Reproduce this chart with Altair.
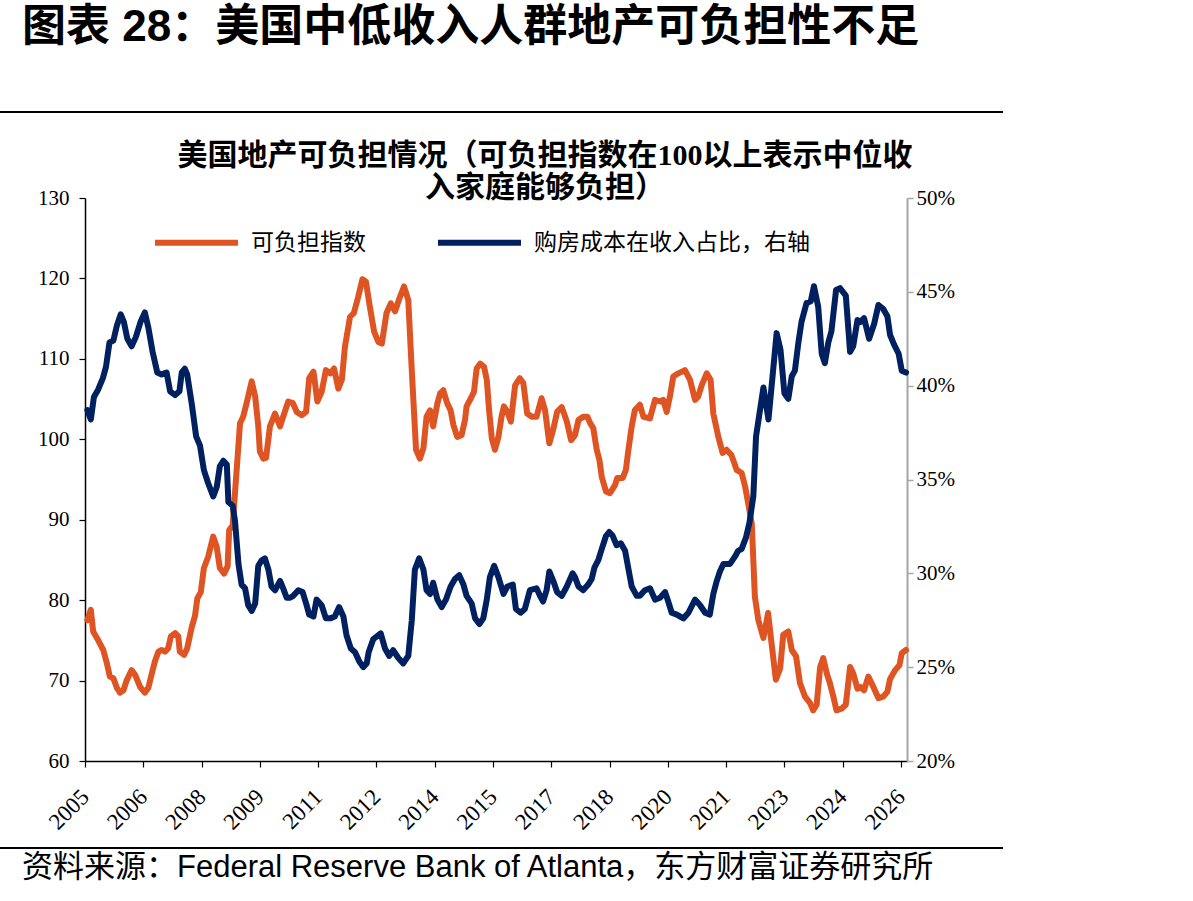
import altair as alt
import pandas as pd

# ---- series: housing affordability index (left axis) ----
afford_year = [
    2005.06, 2005.15, 2005.21, 2005.34, 2005.47, 2005.56, 2005.64, 2005.73, 2005.82, 2005.90,
    2005.99, 2006.07, 2006.20, 2006.29, 2006.42, 2006.54, 2006.63, 2006.72, 2006.80, 2006.89,
    2006.97, 2007.06, 2007.14, 2007.21, 2007.32, 2007.40, 2007.44, 2007.55, 2007.63, 2007.75,
    2007.83, 2007.89, 2007.98, 2008.06, 2008.17, 2008.30, 2008.39, 2008.47, 2008.58, 2008.67,
    2008.71, 2008.80, 2008.99, 2009.07, 2009.16, 2009.29, 2009.38, 2009.46, 2009.50, 2009.59,
    2009.66, 2009.76, 2009.89, 2010.02, 2010.10, 2010.23, 2010.35, 2010.45, 2010.58, 2010.69,
    2010.77, 2010.88, 2010.98, 2011.09, 2011.20, 2011.31, 2011.41, 2011.52, 2011.61, 2011.69,
    2011.82, 2011.92, 2012.03, 2012.14, 2012.23, 2012.33, 2012.44, 2012.55, 2012.64, 2012.76,
    2012.87, 2012.98, 2013.09, 2013.21, 2013.32, 2013.41, 2013.52, 2013.62, 2013.71, 2013.79,
    2013.88, 2013.96, 2014.07, 2014.14, 2014.22, 2014.32, 2014.41, 2014.48, 2014.58, 2014.69,
    2014.78, 2014.82, 2014.93, 2015.01, 2015.08, 2015.17, 2015.27, 2015.34, 2015.40, 2015.47,
    2015.55, 2015.64, 2015.72, 2015.78, 2015.87, 2015.96, 2016.07, 2016.19, 2016.28, 2016.38,
    2016.50, 2016.62, 2016.75, 2016.84, 2016.95, 2017.05, 2017.15, 2017.27, 2017.40, 2017.51,
    2017.61, 2017.70, 2017.82, 2017.93, 2018.00, 2018.08, 2018.17, 2018.24, 2018.30, 2018.41,
    2018.51, 2018.64, 2018.70, 2018.84, 2018.92, 2018.98, 2019.07, 2019.15, 2019.28, 2019.37,
    2019.54, 2019.67, 2019.80, 2019.88, 2019.97, 2020.06, 2020.14, 2020.27, 2020.44, 2020.57,
    2020.70, 2020.78, 2020.87, 2021.00, 2021.10, 2021.17, 2021.30, 2021.41, 2021.51, 2021.64,
    2021.77, 2021.90, 2021.99, 2022.07, 2022.16, 2022.24, 2022.33, 2022.46, 2022.58, 2022.67,
    2022.78, 2022.89, 2022.97, 2023.10, 2023.19, 2023.30, 2023.40, 2023.53, 2023.66, 2023.74,
    2023.83, 2023.92, 2024.00, 2024.09, 2024.17, 2024.26, 2024.34, 2024.47, 2024.58, 2024.69,
    2024.77, 2024.88, 2024.96, 2025.05, 2025.16, 2025.29, 2025.42, 2025.54, 2025.65, 2025.72,
    2025.85, 2025.96, 2026.02, 2026.13,
]
afford_value = [
    77.5, 78.8, 76.1, 75.0, 73.8, 72.2, 70.5, 70.3, 69.1, 68.5,
    68.8, 70.0, 71.3, 70.7, 69.2, 68.5, 69.1, 70.9, 72.4, 73.6,
    73.8, 73.6, 74.0, 75.5, 75.9, 75.5, 73.6, 73.2, 74.0, 76.7,
    78.0, 80.2, 81.0, 84.0, 85.4, 87.9, 86.6, 84.0, 83.3, 84.2,
    88.7, 89.3, 102.0, 102.8, 104.5, 107.2, 105.3, 101.6, 98.5, 97.6,
    97.7, 101.6, 103.2, 101.6, 102.8, 104.7, 104.5, 103.4, 103.0, 103.4,
    107.6, 108.4, 104.7, 105.9, 108.6, 108.2, 108.8, 106.3, 107.4, 111.5,
    115.2, 115.7, 117.7, 119.9, 119.6, 116.5, 113.4, 112.1, 111.9, 115.7,
    116.9, 115.9, 117.5, 119.0, 117.3, 108.6, 98.7, 97.6, 98.9, 102.8,
    103.6, 101.6, 104.5, 105.7, 106.1, 104.5, 103.6, 101.8, 100.3, 100.5,
    102.4, 104.1, 105.1, 105.9, 108.8, 109.4, 109.0, 107.4, 103.6, 100.1,
    98.7, 100.3, 102.8, 104.1, 103.4, 102.2, 106.7, 107.6, 107.0, 103.2,
    102.8, 102.8, 105.1, 103.6, 99.5, 101.2, 103.4, 104.0, 102.2, 99.9,
    100.5, 102.4, 102.8, 102.8, 102.0, 101.4, 98.7, 97.4, 95.3, 93.5,
    93.3, 94.3, 95.2, 95.2, 96.2, 98.5, 101.6, 103.6, 104.3, 102.8,
    102.6, 104.9, 104.7, 104.9, 103.4, 105.5, 107.8, 108.2, 108.6, 107.4,
    104.9, 105.3, 106.7, 108.2, 107.4, 103.2, 100.3, 98.3, 98.7, 98.0,
    96.2, 95.8, 94.1, 92.0, 89.5, 80.4, 77.5, 75.3, 78.4, 74.6,
    70.1, 71.5, 75.7, 76.1, 73.8, 73.0, 69.7, 68.0, 67.2, 66.3,
    67.0, 71.7, 72.8, 70.9, 69.7, 68.0, 66.3, 66.5, 67.0, 71.7,
    70.9, 69.0, 69.2, 68.8, 70.5, 69.2, 67.8, 68.0, 68.6, 70.2,
    71.3, 71.9, 73.4, 73.8,
]

# ---- series: housing cost as share of income, % (right axis) ----
share_year = [
    2005.06, 2005.15, 2005.23, 2005.34, 2005.46, 2005.54, 2005.63, 2005.73, 2005.82, 2005.92,
    2006.00, 2006.09, 2006.20, 2006.31, 2006.43, 2006.54, 2006.63, 2006.74, 2006.86, 2006.97,
    2007.10, 2007.19, 2007.32, 2007.43, 2007.49, 2007.57, 2007.63, 2007.75, 2007.86, 2007.96,
    2008.06, 2008.17, 2008.30, 2008.39, 2008.47, 2008.56, 2008.65, 2008.69, 2008.80, 2008.86,
    2008.95, 2009.03, 2009.12, 2009.20, 2009.29, 2009.38, 2009.46, 2009.55, 2009.63, 2009.72,
    2009.80, 2009.89, 2010.02, 2010.10, 2010.19, 2010.28, 2010.36, 2010.49, 2010.60, 2010.69,
    2010.77, 2010.88, 2010.96, 2011.09, 2011.20, 2011.31, 2011.43, 2011.54, 2011.65, 2011.73,
    2011.84, 2011.95, 2012.06, 2012.16, 2012.25, 2012.30, 2012.42, 2012.61, 2012.72, 2012.83,
    2012.93, 2013.06, 2013.19, 2013.32, 2013.41, 2013.49, 2013.60, 2013.71, 2013.79, 2013.88,
    2013.96, 2014.07, 2014.18, 2014.29, 2014.41, 2014.52, 2014.63, 2014.74, 2014.82, 2014.95,
    2015.04, 2015.15, 2015.25, 2015.34, 2015.42, 2015.53, 2015.64, 2015.77, 2015.87, 2016.01,
    2016.09, 2016.21, 2016.32, 2016.45, 2016.62, 2016.71, 2016.79, 2016.88, 2016.95, 2017.05,
    2017.15, 2017.27, 2017.40, 2017.55, 2017.61, 2017.70, 2017.82, 2017.95, 2018.04, 2018.11,
    2018.21, 2018.30, 2018.41, 2018.49, 2018.58, 2018.68, 2018.79, 2018.90, 2018.98, 2019.07,
    2019.20, 2019.28, 2019.41, 2019.54, 2019.67, 2019.80, 2019.93, 2020.01, 2020.10, 2020.23,
    2020.40, 2020.53, 2020.70, 2020.83, 2020.96, 2021.08, 2021.17, 2021.26, 2021.34, 2021.43,
    2021.60, 2021.73, 2021.81, 2021.90, 2022.01, 2022.10, 2022.20, 2022.27, 2022.35, 2022.46,
    2022.59, 2022.80, 2022.90, 2023.00, 2023.10, 2023.19, 2023.27, 2023.36, 2023.44, 2023.57,
    2023.68, 2023.76, 2023.87, 2023.96, 2024.04, 2024.13, 2024.21, 2024.33, 2024.43, 2024.58,
    2024.69, 2024.77, 2024.88, 2024.96, 2025.05, 2025.18, 2025.31, 2025.42, 2025.54, 2025.65,
    2025.72, 2025.82, 2025.94, 2026.02, 2026.13,
]
share_value = [
    38.7, 38.2, 39.4, 39.8, 40.4, 41.0, 42.3, 42.4, 43.2, 43.8,
    43.4, 42.5, 42.1, 42.6, 43.4, 43.9, 43.1, 41.8, 40.7, 40.6,
    40.7, 39.7, 39.5, 39.7, 40.7, 40.9, 40.6, 39.0, 37.3, 36.8,
    35.5, 34.8, 34.1, 34.6, 35.7, 36.0, 35.8, 33.8, 33.6, 32.8,
    30.5, 29.4, 29.2, 28.3, 28.0, 28.4, 30.4, 30.7, 30.8, 30.2,
    29.3, 29.1, 29.6, 29.2, 28.7, 28.7, 28.8, 29.1, 29.0, 28.4,
    27.8, 27.7, 28.6, 28.3, 27.6, 27.6, 27.7, 28.2, 27.7, 26.7,
    26.0, 25.8, 25.3, 25.0, 25.2, 25.8, 26.5, 26.8, 26.0, 25.6,
    25.9, 25.5, 25.2, 25.6, 27.5, 30.2, 30.8, 30.2, 29.1, 28.9,
    29.5, 28.6, 28.2, 28.6, 29.3, 29.7, 29.9, 29.4, 28.8, 28.4,
    27.6, 27.3, 27.6, 28.6, 29.8, 30.4, 29.8, 28.9, 29.3, 29.4,
    28.1, 27.9, 28.1, 29.1, 29.2, 28.8, 28.5, 29.1, 30.1, 29.6,
    29.0, 28.8, 29.3, 30.0, 29.8, 29.3, 29.1, 29.4, 29.7, 30.3,
    30.7, 31.3, 32.0, 32.2, 32.0, 31.5, 31.6, 31.2, 30.3, 29.3,
    28.8, 28.8, 29.1, 29.2, 28.6, 28.7, 29.0, 28.5, 27.9, 27.8,
    27.6, 27.9, 28.6, 28.3, 27.9, 27.8, 28.9, 29.6, 30.1, 30.5,
    30.5, 30.9, 31.2, 31.3, 31.9, 32.7, 34.1, 37.3, 38.4, 39.9,
    38.2, 42.8, 41.9, 39.6, 39.3, 40.5, 40.8, 42.3, 43.4, 44.4,
    44.5, 45.3, 44.2, 41.7, 41.2, 42.3, 42.9, 45.1, 45.2, 44.8,
    41.8, 42.1, 43.5, 43.4, 43.6, 42.5, 43.3, 44.3, 44.1, 43.7,
    42.7, 42.2, 41.7, 40.8, 40.7,
]

series_names = ["可负担指数", "购房成本在收入占比，右轴"]
series_colors = ["#DE5423", "#002060"]

x_ticks = [2005, 2006.5, 2008, 2009.5, 2011, 2012.5, 2014, 2015.5, 2017,
           2018.5, 2020, 2021.5, 2023, 2024.5, 2026]
left_ticks = [60, 70, 80, 90, 100, 110, 120, 130]
right_ticks = [20, 25, 30, 35, 40, 45, 50]

header_text = ["图表 28：美国中低收入人群地产可负担性不足"]
subtitle_lines = ["美国地产可负担情况（可负担指数在100以上表示中位收", "入家庭能够负担）"]
source_text = ["资料来源：Federal Reserve Bank of Atlanta，东方财富证券研究所"]

df_a = pd.DataFrame({"year": afford_year, "value": afford_value, "series": series_names[0]})
df_b = pd.DataFrame({"year": share_year, "value": share_value, "series": series_names[1]})

SERIF = "Liberation Serif"
CJK = "Noto Sans CJK SC"

x_enc = alt.X(
    "year:Q",
    scale=alt.Scale(domain=[2005, 2026.155], nice=False, zero=False),
    axis=alt.Axis(
        values=x_ticks, labelExpr="floor(datum.value)", title=None, grid=False,
        domainColor="black", domainWidth=1.5, tickColor="black", tickWidth=1.2, tickSize=6,
        labelAngle=-45, labelAlign="right", labelBaseline="middle", labelPadding=26,
        labelFont=SERIF, labelFontSize=23, labelColor="black", labelOverlap=False,
    ),
)

color_enc = alt.Color(
    "series:N",
    scale=alt.Scale(domain=series_names, range=series_colors),
    legend=alt.Legend(
        title=None, orient="none", legendX=67, legendY=0, direction="horizontal",
        symbolType="stroke", symbolSize=6889, symbolStrokeWidth=6,
        labelFont=CJK, labelFontSize=23, labelColor="black", labelOffset=10,
        labelLimit=500, columnPadding=60,
    ),
)

afford_line = alt.Chart(df_a).mark_line(strokeWidth=6, strokeJoin="round", strokeCap="round").encode(
    x=x_enc,
    y=alt.Y(
        "value:Q",
        scale=alt.Scale(domain=[60, 130], nice=False, zero=False),
        axis=alt.Axis(
            orient="left", values=left_ticks, title=None, grid=False,
            domainColor="black", domainWidth=1.5, tickColor="black", tickWidth=1.2, tickSize=6,
            labelFont=SERIF, labelFontSize=21, labelColor="black", labelPadding=10,
        ),
    ),
    color=color_enc,
)

share_line = alt.Chart(df_b).mark_line(strokeWidth=6, strokeJoin="round", strokeCap="round").encode(
    x=x_enc,
    y=alt.Y(
        "value:Q",
        scale=alt.Scale(domain=[20, 50], nice=False, zero=False),
        axis=alt.Axis(
            orient="right", values=right_ticks, title=None, grid=False,
            labelExpr="datum.value + '%'",
            domainColor="#A6A6A6", domainWidth=2, tickColor="#A6A6A6", tickWidth=1.5, tickSize=6,
            labelFont=SERIF, labelFontSize=21, labelColor="black", labelPadding=3,
        ),
    ),
    color=color_enc,
)

# page header, subtitle, source note and separator rules
header = alt.Chart(pd.DataFrame({"t": header_text})).mark_text(
    align="left", baseline="middle", font="Liberation Sans, " + CJK, fontSize=44,
    fontWeight="bold", color="black",
).encode(text="t:N", x=alt.value(-63), y=alt.value(-170))

sub1 = alt.Chart(pd.DataFrame({"t": subtitle_lines[:1]})).mark_text(
    align="center", baseline="middle", font=SERIF + ", " + CJK, fontSize=30,
    fontWeight="bold", color="black",
).encode(text="t:N", x=alt.value(460), y=alt.value(-42))

sub2 = alt.Chart(pd.DataFrame({"t": subtitle_lines[1:]})).mark_text(
    align="center", baseline="middle", font=SERIF + ", " + CJK, fontSize=30,
    fontWeight="bold", color="black",
).encode(text="t:N", x=alt.value(460), y=alt.value(-10))

source = alt.Chart(pd.DataFrame({"t": source_text})).mark_text(
    align="left", baseline="middle", font="Liberation Sans, " + CJK, fontSize=31,
    color="black",
).encode(text="t:N", x=alt.value(-63), y=alt.value(670))

rules_df = pd.DataFrame({"k": ["top", "bottom"]})
top_rule = alt.Chart(rules_df.iloc[:1]).mark_rule(color="black", strokeWidth=2).encode(
    x=alt.value(-85), x2=alt.value(918), y=alt.value(-86))
bottom_rule = alt.Chart(rules_df.iloc[1:]).mark_rule(color="black", strokeWidth=2).encode(
    x=alt.value(-85), x2=alt.value(918), y=alt.value(650))

chart = alt.layer(
    afford_line, share_line, header, sub1, sub2, source, top_rule, bottom_rule
).resolve_scale(
    y="independent"
).properties(
    width=822, height=563,
    autosize=alt.AutoSizeParams(type="none"),
    padding={"left": 85, "top": 198, "right": 286, "bottom": 140},
    background="white",
).configure_view(stroke=None)

chart.save("out.html", embed_options={"renderer": "svg", "actions": False})
